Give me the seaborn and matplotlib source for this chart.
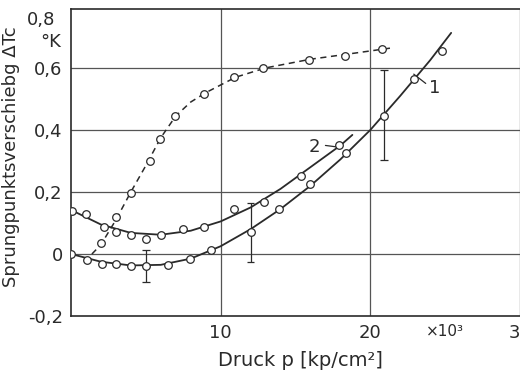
import numpy as np
import pandas as pd
import matplotlib
matplotlib.use("Agg")
import matplotlib.pyplot as plt
import seaborn as sns

### data
# curve 1 (lower solid line)
c1_px = [0.0, 1.06, 2.05, 3.0, 4.0, 5.0, 6.5, 7.95, 9.35, 12.0, 13.9, 16.0, 18.4, 20.9, 22.9, 24.8]
c1_py = [0.0, -0.019, -0.032, -0.032, -0.038, -0.04, -0.036, -0.016, 0.013, 0.071, 0.145, 0.226, 0.326, 0.445, 0.564, 0.655]
c1_lx = [0, 2, 4, 6, 8, 10, 12, 14, 16, 18, 20, 22, 24, 25.4]
c1_ly = [0.0, -0.025, -0.037, -0.035, -0.015, 0.025, 0.08, 0.145, 0.22, 0.305, 0.4, 0.51, 0.625, 0.713]

# curve 2 (upper solid line)
c2_px = [0.1, 1.0, 2.2, 3.0, 4.0, 5.0, 6.0, 7.5, 8.9, 10.9, 12.9, 15.4, 17.9]
c2_py = [0.14, 0.128, 0.087, 0.071, 0.061, 0.048, 0.061, 0.08, 0.088, 0.145, 0.168, 0.252, 0.35]
c2_lx = [0, 2, 4, 6, 8, 10, 12, 14, 16, 18, 18.8]
c2_ly = [0.142, 0.095, 0.068, 0.062, 0.075, 0.105, 0.15, 0.21, 0.28, 0.35, 0.384]

# dashed curve
d_px = [1.99, 2.98, 4.03, 5.26, 5.96, 6.95, 8.9, 10.9, 12.85, 15.9, 18.3, 20.8]
d_py = [0.035, 0.119, 0.197, 0.30, 0.371, 0.445, 0.516, 0.571, 0.60, 0.626, 0.64, 0.66]
d_lx = [0.9, 2, 3, 4, 5, 6, 7, 8, 9, 11, 13, 16, 19, 21.5]
d_ly = [-0.025, 0.03, 0.11, 0.2, 0.285, 0.375, 0.445, 0.49, 0.52, 0.57, 0.6, 0.628, 0.648, 0.665]

# error bars (x, low, high)
err_x = [5.0, 12.0, 20.9]
err_lo = [-0.09, -0.026, 0.303]
err_hi = [0.013, 0.165, 0.594]

y_ticks = [-0.2, 0, 0.2, 0.4, 0.6]
y_labels = ["-0,2", "0", "0,2", "0,4", "0,6"]
x_ticks = [10, 20, 30]
x_labels = ["10", "20", "30"]

sns.set_style("white")
plt.rcParams['font.family'] = ['DejaVu Sans']
ink = "#2a2a2a"

fig = plt.figure(figsize=(5.2, 3.77), dpi=100)
ax = fig.add_axes([71/520, 1-316/377, 1-71/520, (316-9)/377])

# grid
for gy in [0, 0.2, 0.4, 0.6]:
    ax.axhline(gy, color="#555555", lw=0.9, zorder=0)
for gx in [10, 20, 30]:
    ax.axvline(gx, color="#555555", lw=0.9, zorder=0)

lines = pd.concat([
    pd.DataFrame({"x": c1_lx, "y": c1_ly, "k": "1"}),
    pd.DataFrame({"x": c2_lx, "y": c2_ly, "k": "2"}),
])
sns.lineplot(data=lines, x="x", y="y", units="k", estimator=None,
             color=ink, lw=1.3, ax=ax, sort=False)
sns.lineplot(x=d_lx, y=d_ly, color=ink, lw=1.1, ax=ax, sort=False,
             linestyle=(0, (4, 3)))

pts = pd.DataFrame({"x": c1_px + c2_px + d_px, "y": c1_py + c2_py + d_py})
sns.scatterplot(data=pts, x="x", y="y", ax=ax, marker="o", s=30,
                facecolor="white", edgecolor=ink, linewidth=0.9, zorder=5)

ax.vlines(err_x, err_lo, err_hi, color=ink, lw=0.9, zorder=4)
ax.hlines(err_lo + err_hi, [x - 0.25 for x in err_x] * 2,
          [x + 0.25 for x in err_x] * 2, color=ink, lw=0.9, zorder=4)

# curve labels
ax.plot([22.9, 23.7], [0.58, 0.55], color=ink, lw=0.9)
ax.text(23.9, 0.535, "1", fontsize=13, color=ink, va="center")
ax.plot([17.0, 17.8], [0.35, 0.345], color=ink, lw=0.9)
ax.text(15.9, 0.345, "2", fontsize=13, color=ink, va="center")

ax.set_xlim(0, 29.75)
ax.set_ylim(-0.2, 0.79)
ax.set_yticks(y_ticks, y_labels)
ax.set_xticks(x_ticks, x_labels)
ax.tick_params(length=0, labelsize=13, labelcolor=ink, pad=6)
ax.text(-0.035, 0.755, "0,8", fontsize=13, color=ink, ha="right", va="center",
        transform=ax.get_yaxis_transform())
ax.text(-0.045, 0.685, "°K", fontsize=13, color=ink, ha="center", va="center",
        transform=ax.get_yaxis_transform())
ax.text(25.0, -0.25, "×10³", fontsize=11, color=ink, ha="center", va="center")

for s in ["left", "top", "bottom"]:
    ax.spines[s].set_color(ink)
    ax.spines[s].set_linewidth(1.2)
ax.spines["right"].set_visible(False)

ax.set_xlabel("Druck p [kp/cm²]", fontsize=14, color=ink, labelpad=6)
ax.xaxis.set_label_coords(0.51, -0.115)
ax.set_ylabel("Sprungpunktsverschiebg ΔTc", fontsize=13, color=ink)
ax.yaxis.set_label_coords(-0.113, 0.52)

fig.savefig("out.png", dpi=100)
